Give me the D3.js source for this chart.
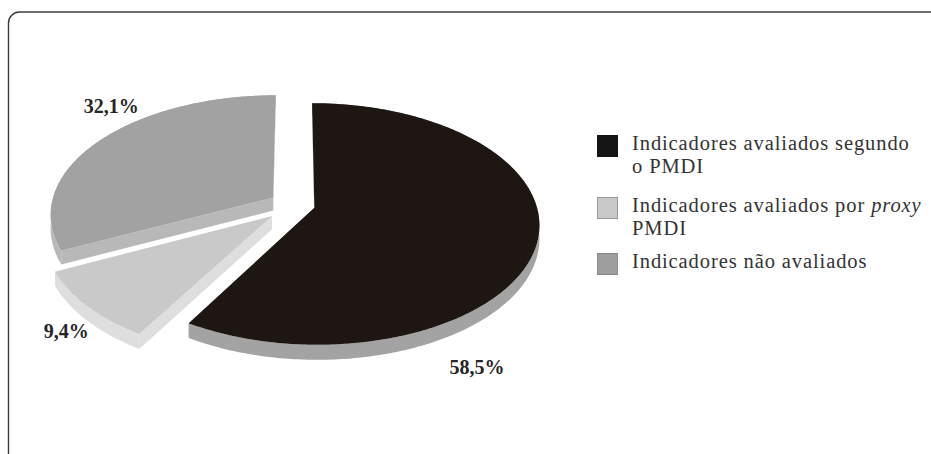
<!DOCTYPE html>
<html>
<head>
<meta charset="utf-8">
<script src="https://cdn.jsdelivr.net/npm/d3@7/dist/d3.min.js"></script>
<style>
  html, body { margin: 0; padding: 0; background: #ffffff; }
  svg { display: block; }
</style>
</head>
<body>
<svg id="chart" width="931" height="454"></svg>
<script>
// ---- data ----
const categories = [
  "Indicadores avaliados segundo o PMDI",
  "Indicadores avaliados por proxy PMDI",
  "Indicadores não avaliados"
];
const values = [58.5, 9.4, 32.1];

// legend text, split in lines; each line is a list of [text, italic] runs
const legendLines = [
  [[["Indicadores avaliados segundo", false]], [["o PMDI", false]]],
  [[["Indicadores avaliados por ", false], ["proxy", true]], [["PMDI", false]]],
  [[["Indicadores não avaliados", false]]]
];

// ---- style ----
const topColors  = ["#1e1613", "#c9c9c9", "#a2a2a2"];
const sideColors = ["#a3a3a3", "#dedede", "#b8b8b8"];
const swatchColors = ["#141414", "#c9c9c9", "#9e9e9e"];
const swatchStroke = ["#141414", "#9a9a9a", "#8a8a8a"];

// ---- layout of the tilted pie (perspective view) ----
const view = { ox: 295, oy: 205, R: 222, sinA: 0.531, cosA: 0.847, D: 1410, depth: 13 };
const explode = [20, 31, 26];               // radial offset of each slice
const labelAt = [                            // label anchor: pie angle (deg) and radius factor
  { a: 152, r: 1.29 },
  { a: 223.5, r: 1.16 },
  { a: 316.5, r: 1.21 }
];

const svg = d3.select("#chart");

// frame, open on the right and bottom
svg.append("path")
  .attr("d", "M8.5,454 V23 A11,11 0 0 1 19.5,12 H931")
  .attr("fill", "none")
  .attr("stroke", "#3c3c3c")
  .attr("stroke-width", 1.4);

// project a point of the pie plane (x right, z toward viewer) to the screen
function proj(x, z) {
  const s = view.D / (view.D - z * view.cosA);
  return [view.ox + x * s, view.oy + z * view.sinA * s, s];
}
function planePt(c, a, r) {
  return [c[0] + r * Math.sin(a), c[1] - r * Math.cos(a)];
}
function down(p) { return [p[0], p[1] + view.depth * p[2]]; }

const pie = d3.pie().sort(null).value(d => d);
const arcs = pie(values);
const line = d3.line();

const pieG = svg.append("g");

// paint back slices first
const order = [2, 1, 0];
order.forEach(i => {
  const d = arcs[i];
  const mid = (d.startAngle + d.endAngle) / 2;
  const c = [explode[i] * Math.sin(mid), -explode[i] * Math.cos(mid)];
  const n = Math.max(2, Math.ceil((d.endAngle - d.startAngle) / (Math.PI / 240)));
  const angles = d3.range(n + 1).map(k => d.startAngle + (d.endAngle - d.startAngle) * k / n);
  const rim = angles.map(a => { const q = planePt(c, a, view.R); return proj(q[0], q[1]); });
  const v = proj(c[0], c[1]);

  const g = pieG.append("g");

  // radial side walls
  [rim[0], rim[rim.length - 1]].forEach(p => {
    g.append("path")
      .attr("d", line([v, p, down(p), down(v)].map(q => [q[0], q[1]])) + "Z")
      .attr("fill", sideColors[i]);
  });

  // outer curved wall
  const wall = rim.map(p => [p[0], p[1]]).concat(rim.slice().reverse().map(p => down(p)));
  g.append("path")
    .attr("d", line(wall) + "Z")
    .attr("fill", sideColors[i]);

  // top face
  const top = [[v[0], v[1]]].concat(rim.map(p => [p[0], p[1]]));
  g.append("path")
    .attr("d", line(top) + "Z")
    .attr("fill", topColors[i]);
});

// value labels
const fmt = v => d3.format(".1f")(v).replace(".", ",") + "%";
arcs.forEach((d, i) => {
  const mid = (d.startAngle + d.endAngle) / 2;
  const c = [explode[i] * Math.sin(mid), -explode[i] * Math.cos(mid)];
  const q = planePt(c, labelAt[i].a * Math.PI / 180, view.R * labelAt[i].r);
  const p = proj(q[0], q[1]);
  svg.append("text")
    .attr("x", p[0])
    .attr("y", p[1])
    .attr("dy", "0.33em")
    .attr("text-anchor", "middle")
    .attr("font-family", "'Liberation Serif', 'Times New Roman', serif")
    .attr("font-weight", "bold")
    .attr("font-size", 20)
    .attr("fill", "#262626")
    .text(fmt(values[i]));
});

// legend
const legendTop = [135, 197, 253];
const legend = svg.append("g").attr("transform", "translate(597,0)");
legendLines.forEach((lines, i) => {
  legend.append("rect")
    .attr("x", 0.5).attr("y", legendTop[i] + 0.5)
    .attr("width", 20).attr("height", 21)
    .attr("fill", swatchColors[i])
    .attr("stroke", swatchStroke[i])
    .attr("stroke-width", 1);
  const t = legend.append("text")
    .attr("font-family", "'Liberation Serif', 'Times New Roman', serif")
    .attr("font-size", 20.5)
    .attr("letter-spacing", 0.9)
    .attr("fill", "#333333");
  lines.forEach((runs, li) => {
    runs.forEach((run, ri) => {
      const ts = t.append("tspan").text(run[0]);
      if (ri === 0) ts.attr("x", 35).attr("y", legendTop[i] + 15 + li * 23);
      if (run[1]) ts.attr("font-style", "italic");
    });
  });
});
</script>
</body>
</html>
